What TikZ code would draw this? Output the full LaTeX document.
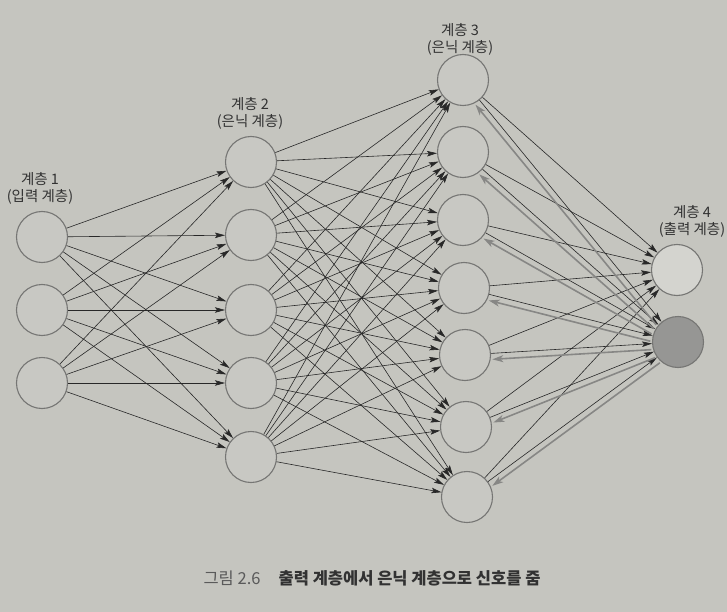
\documentclass[tikz,border=0pt]{standalone}
\usepackage{fontspec}
\setmainfont{Noto Sans CJK KR}
\usetikzlibrary{arrows.meta,calc}
\definecolor{paper}{RGB}{197,197,191}
\definecolor{circgray}{RGB}{118,118,116}
\definecolor{nfill}{RGB}{200,200,195}
\definecolor{linecol}{RGB}{40,40,40}
\definecolor{backgray}{RGB}{135,135,133}
\definecolor{txt}{RGB}{50,50,50}
\definecolor{capgray}{RGB}{90,90,90}
\definecolor{outfill}{RGB}{150,150,148}
\definecolor{outlight}{RGB}{212,212,207}
\begin{document}
\begin{tikzpicture}[x=1pt,y=-1pt,
  neuron/.style={circle,draw=circgray,line width=1.1pt,fill=nfill,minimum size=51pt,inner sep=0pt},
  conn/.style={draw=linecol,line width=0.6pt,-{Stealth[length=10pt,width=5.5pt,inset=2pt]}},
  back/.style={draw=backgray,line width=1.6pt,-{Stealth[length=11pt,width=7pt,inset=3pt]}},
  lbl/.style={font=\fontsize{14.5}{17}\selectfont,text=txt,align=center}]
\fill[paper] (0,0) rectangle (727,612);
\useasboundingbox (0,0) rectangle (727,612);
% layer 1
\foreach \i/\y in {1/237,2/310,3/383} \node[neuron] (a\i) at (42,\y) {};
% layer 2
\foreach \i/\y in {1/162,2/235,3/310,4/383,5/457} \node[neuron] (b\i) at (251,\y) {};
% layer 3
\foreach \i/\x/\y in {1/463/80,2/463/152,3/463/220,4/464/288,5/465/355,6/466/427,7/467/497}
  \node[neuron] (c\i) at (\x,\y) {};
% layer 4
\node[neuron,fill=outlight] (d1) at (677,270) {};
\node[neuron,fill=outfill] (d2) at (678,342) {};
% labels
\node[lbl] (l1) at (40,188.5) {계층 1\\(입력 계층)};
\node[lbl] (l2) at (250,113) {계층 2\\(은닉 계층)};
\node[lbl] (l3) at (460,39) {계층 3\\(은닉 계층)};
\node[lbl] (l4) at (692,221) {계층 4\\(출력 계층)};
% connections
\foreach \i in {1,2,3} \foreach \j in {1,...,5} \draw[conn] (a\i) -- (b\j);
\foreach \i in {1,...,5} \foreach \j in {1,...,7} \draw[conn] (b\i) -- (c\j);
\foreach \i in {1,...,7} \foreach \j in {1,2} \draw[conn] (c\i) -- (d\j);
% back signals
\foreach \j in {1,...,7}
  \draw[back,shorten <=27pt,shorten >=27pt] ($(d2)!6pt!90:(c\j)$) -- ($(c\j)!6pt!-90:(d2)$);
% caption
\node[font=\fontsize{16.5}{18}\selectfont,text=txt] (cap) at (372,578)
  {\textcolor{capgray}{그림 2.6}\hspace{1.1em}\textbf{출력 계층에서 은닉 계층으로 신호를 줌}};
\end{tikzpicture}
\end{document}
